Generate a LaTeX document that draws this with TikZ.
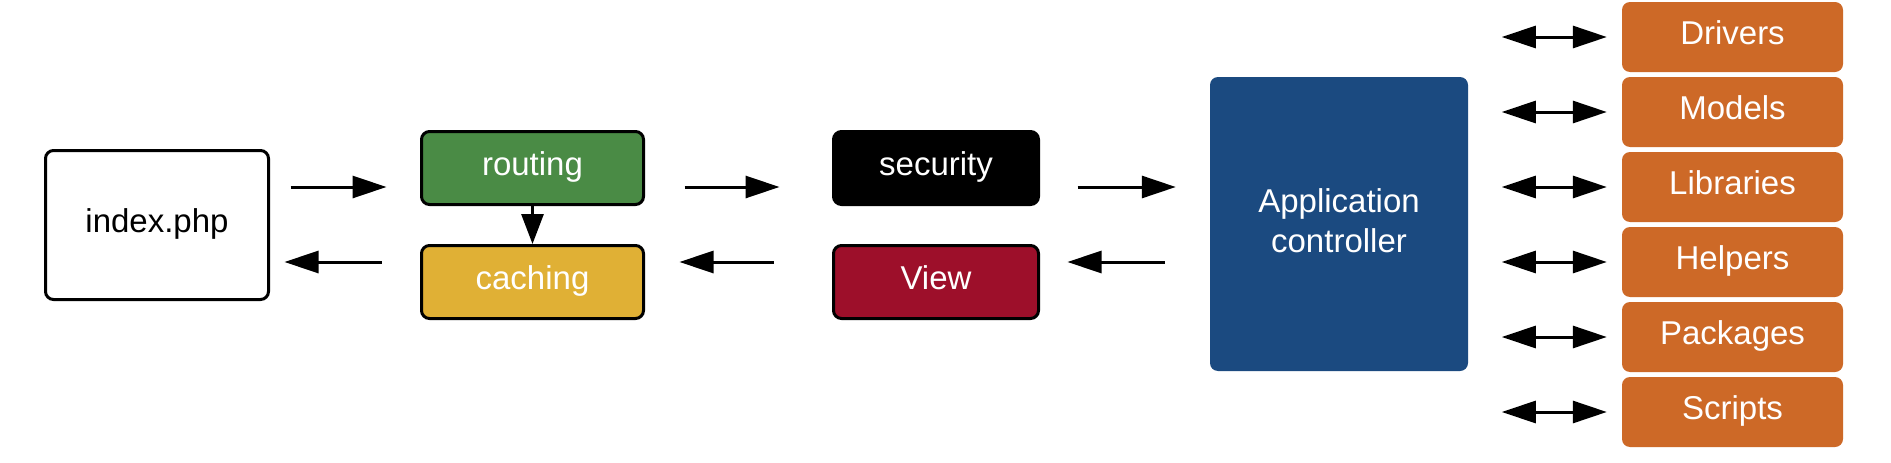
\documentclass[tikz,border=0pt]{standalone}
\usepackage{fontspec}
\setmainfont{Liberation Sans}
\usetikzlibrary{arrows.meta}
\definecolor{cgreen}{HTML}{4A8B45}
\definecolor{cyellow}{HTML}{E0B035}
\definecolor{cred}{HTML}{9D0F2A}
\definecolor{cblue}{HTML}{1B4A80}
\definecolor{corange}{HTML}{CD6927}
\begin{document}
\begin{tikzpicture}[x=1pt,y=-1pt,
  box/.style={rectangle, rounded corners=8pt, inner sep=0pt, font=\fontsize{33}{40}\selectfont, align=center},
  oneline/.style={text height=24pt, text depth=10pt},
  bordered/.style={box, oneline, draw=black, line width=3pt},
  stage/.style={bordered, minimum height=73pt, text=white},
  comp/.style={box, oneline, fill=corange, text=white, minimum width=221pt, minimum height=70pt},
  arr/.style={line width=3pt, -{Triangle[length=34pt,width=22pt]}},
  varr/.style={line width=3pt, -{Triangle[length=30pt,width=22pt]}},
  darr/.style={line width=3pt, {Triangle[length=34pt,width=22pt]}-{Triangle[length=34pt,width=22pt]}},
]
\path[fill=white, use as bounding box] (0,0) rectangle (1891,463);

\node[bordered, fill=white, minimum width=223pt, minimum height=149pt] (index) at (157,225) {index.php};
\node[stage, fill=cgreen, minimum width=222pt] (routing) at (532.5,168) {routing};
\node[stage, fill=cyellow, minimum width=222pt] (caching) at (532.5,282) {caching};
\node[stage, fill=black, minimum width=205pt] (security) at (936,168) {security};
\node[stage, fill=cred, minimum width=205pt] (view) at (936,282) {View};
\node[box, fill=cblue, text=white, minimum width=258pt, minimum height=294pt, text height=64pt, text depth=8pt] (app) at (1339,224) {Application\\controller};

\node[comp] (drivers) at (1732.5,37) {Drivers};
\node[comp] (models) at (1732.5,112) {Models};
\node[comp] (libs) at (1732.5,187) {Libraries};
\node[comp] (helpers) at (1732.5,262) {Helpers};
\node[comp] (packages) at (1732.5,337) {Packages};
\node[comp] (scripts) at (1732.5,412) {Scripts};

% forward flow
\draw[arr, shorten <=20.5pt, shorten >=33.5pt] ([yshift=38pt]index.east) -- ([yshift=-19pt]routing.west);
\draw[arr, shorten <=39.5pt, shorten >=52.5pt] ([yshift=-19pt]routing.east) -- ([yshift=-19pt]security.west);
\draw[arr, shorten <=37.5pt, shorten >=34pt] ([yshift=-19pt]security.east) -- ([yshift=37pt]app.west);
\draw[varr] (routing.south) -- (caching.north);
% return flow
\draw[arr, shorten <=45pt, shorten >=27.5pt] ([yshift=-38pt]app.west) -- ([yshift=20pt]view.east);
\draw[arr, shorten <=58.5pt, shorten >=34.5pt] ([yshift=20pt]view.west) -- ([yshift=20pt]caching.east);
\draw[arr, shorten <=38.5pt, shorten >=14.5pt] ([yshift=20pt]caching.west) -- ([yshift=-37pt]index.east);

% components
\foreach \n in {drivers,models,libs,helpers,packages,scripts}
  \draw[darr, shorten >=15pt] ([xshift=-120pt]\n.west) -- (\n.west);
\end{tikzpicture}
\end{document}
